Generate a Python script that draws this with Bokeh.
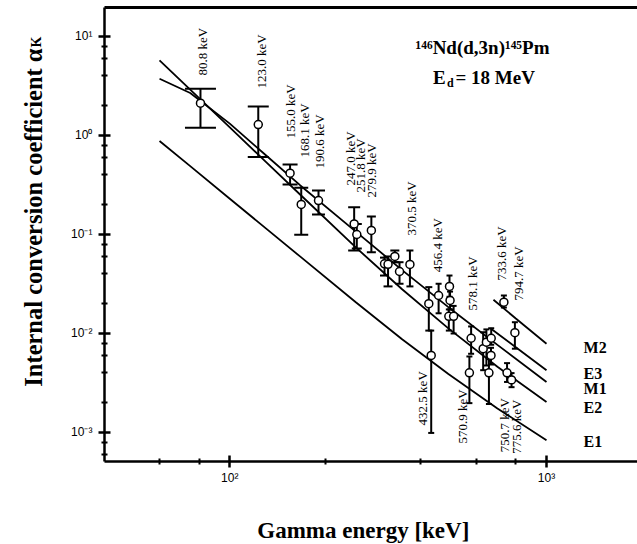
import math
from bokeh.plotting import figure
from bokeh.models import FixedTicker, Range1d, Label, LogAxis, CustomJSTickFormatter
from bokeh.core.properties import value
from bokeh.embed import file_html
from bokeh.resources import INLINE

# ---------------- theoretical K-conversion coefficients ----------------
curve_energy = [60, 75, 100, 130, 167, 250, 350, 490, 700, 1000]
alpha_E1 = [0.881, 0.490, 0.230, 0.1153, 0.0597, 0.02065, 0.00875, 0.0039, 0.00175, 0.000834]
alpha_E2 = [5.73, 2.90, 1.206, 0.542, 0.252, 0.0740, 0.0280, 0.01127, 0.00461, 0.00203]
alpha_M1 = [3.74, 2.69, 1.318, 0.631, 0.313, 0.107, 0.0437, 0.01845, 0.00767, 0.00324]
energy_E3 = [665, 800, 1000]
alpha_E3 = [0.0113, 0.00726, 0.00425]
energy_M2 = [680, 800, 1000]
alpha_M2 = [0.0219, 0.01416, 0.00787]

# ---------------- measured values ----------------
meas_energy = [80.8, 123.0, 155.0, 168.1, 190.6, 247.0, 251.8, 279.9, 308, 316, 332, 343.5,
               370.5, 425, 432.5, 456.4, 494, 496, 491.6, 509, 570.9, 578.1, 631, 646, 658,
               668, 669, 733.6, 750.7, 775.6, 794.7]
meas_alpha = [2.12, 1.29, 0.416, 0.201, 0.220, 0.128, 0.100, 0.110, 0.0506, 0.0500, 0.060, 0.0423,
              0.0498, 0.0200, 0.0060, 0.0242, 0.0299, 0.0216, 0.0149, 0.0149, 0.00401, 0.00895,
              0.00702, 0.00817, 0.00401, 0.0060, 0.00895, 0.0207, 0.00401, 0.0034, 0.0102]
meas_hi = [2.97, 1.96, 0.509, 0.296, 0.278, 0.189, 0.128, 0.152, 0.0584, 0.060, 0.0689, 0.0525,
           0.0689, 0.0294, 0.0107, 0.0318, 0.0385, 0.0265, 0.0175, 0.0190, 0.00586, 0.01178,
           0.0103, 0.0110, 0.00559, 0.00717, 0.0113, 0.0242, 0.00502, 0.00398, 0.0130]
meas_lo = [1.20, 0.608, 0.320, 0.0993, 0.159, 0.0689, 0.072, 0.0662, 0.0385, 0.0299, 0.0525, 0.0318,
           0.0299, 0.0107, 0.00099, 0.016, 0.0235, 0.0175, 0.0107, 0.0100, 0.00198, 0.00624,
           0.00426, 0.00475, 0.00194, 0.00486, 0.0077, 0.0183, 0.00324, 0.00287, 0.00702]
cap_px = [31, 21, 15, 14, 13, 12, 10, 9, 9, 9, 9, 8, 7, 7, 6, 6, 6, 6, 6, 6, 6, 6, 6, 6, 6, 6, 6, 6, 6, 6, 6]

# ---------------- gamma-line labels ----------------
tag_energy = [80.8, 123.0, 155.0, 168.1, 190.6, 247.0, 251.8, 279.9, 370.5, 456.4, 578.1,
              733.6, 794.7, 432.5, 570.9, 750.7, 775.6]
tag_text = ["%.1f keV" % e for e in tag_energy]
tag_y = [4.04, 2.98, 0.933, 0.600, 0.464, 0.313, 0.265, 0.236, 0.0977, 0.0416, 0.0171,
         0.0343, 0.0215, 0.00118, 0.000774, 0.000633, 0.000609]
tag_dx = [2, 3, 0, 3, 1, -4, 4, 0, 2, -1, 1, -2, 4, -9, -7, -3, 5]

mult_names = ["M2", "E3", "M1", "E2", "E1"]
mult_y = [0.00718, 0.00392, 0.00276, 0.00177, 0.000811]

# axis extents (data units)
X_LO, X_HI = 40.2, 1938
Y_LO, Y_HI = 5.095e-4, 19.6

SERIF = "Liberation Serif"

p = figure(width=637, height=544, x_axis_type="log", y_axis_type="log",
           x_axis_location=None, y_axis_location=None,
           x_range=Range1d(18.88, 1938), y_range=Range1d(7.39e-5, 23.1),
           output_backend="svg", toolbar_location=None,
           min_border_left=0, min_border_right=0, min_border_top=0, min_border_bottom=0)
p.outline_line_color = None
p.xgrid.visible = False
p.ygrid.visible = False
p.background_fill_color = "white"
p.border_fill_color = "white"

# curves
for xs, ys in [(curve_energy, alpha_E1), (curve_energy, alpha_E2), (curve_energy, alpha_M1),
               (energy_E3, alpha_E3), (energy_M2, alpha_M2)]:
    p.line(xs, ys, line_color="black", line_width=1.8)

# error bars
p.segment(x0=meas_energy, y0=meas_lo, x1=meas_energy, y1=meas_hi, line_color="black", line_width=2)
p.scatter(meas_energy, meas_hi, marker="dash", size=cap_px, line_color="black", line_width=2)
p.scatter(meas_energy, meas_lo, marker="dash", size=cap_px, line_color="black", line_width=2)
p.scatter(meas_energy, meas_alpha, marker="circle", size=8, fill_color="white",
          line_color="black", line_width=1.5)

# gamma labels
p.text(x=tag_energy, y=tag_y, text=tag_text, angle=math.pi / 2, x_offset=tag_dx,
       text_align="left", text_baseline="middle", text_font=value(SERIF),
       text_font_size="13px", text_color="black")

# multipolarity labels
p.text(x=[1309] * len(mult_names), y=mult_y, text=mult_names, text_align="left",
       text_baseline="middle", text_font=value(SERIF), text_font_style="bold",
       text_font_size="16px", text_color="black")


def add_label(**kw):
    kw.setdefault("text_font", SERIF)
    kw.setdefault("text_font_style", "bold")
    kw.setdefault("text_color", "black")
    kw.setdefault("text_baseline", "alphabetic")
    p.add_layout(Label(**kw))


# title texts
add_label(x=628, y=7.74, text="\u00b9\u2074\u2076Nd(d,3n)\u00b9\u2074\u2075Pm",
          text_align="center", text_font_size="19px")
add_label(x=438.5, y=3.83, text="E", text_align="left", text_font_size="19px")
add_label(x=485, y=3.43, text="d", text_align="left", text_font_size="12px")
add_label(x=516, y=3.83, text="= 18 MeV", text_align="left", text_font_size="19px")

# axis titles
add_label(x=24.0, y=7.57, text="Internal conversion coefficient \u03b1", angle=math.pi / 2,
          text_align="right", text_font_size="24.5px")
add_label(x=24.5, y=7.74, text="K", angle=math.pi / 2, text_align="left", text_font_size="14px")
add_label(x=264, y=1.02e-4, text="Gamma energy [keV]", text_align="center", text_font_size="23px")

fmt = CustomJSTickFormatter(code="""
const e = Math.round(Math.log10(tick));
const m = {"-": "\u207b", "0": "\u2070", "1": "\u00b9", "2": "\u00b2", "3": "\u00b3"};
return "10" + String(e).split("").map(c => m[c]).join("");
""")


def style(ax):
    ax.formatter = fmt
    ax.axis_line_width = 2.5
    ax.axis_line_color = "black"
    ax.major_tick_line_width = 2.5
    ax.minor_tick_line_width = 2
    ax.major_tick_in = 6
    ax.major_tick_out = 6
    ax.minor_tick_in = 3
    ax.minor_tick_out = 3
    ax.major_label_text_font = "Liberation Sans"
    ax.major_label_text_font_size = "12px"
    ax.major_label_text_color = "black"


xaxis = LogAxis(fixed_location=Y_LO, bounds=(X_LO, X_HI),
                ticker=FixedTicker(ticks=[100, 1000], minor_ticks=[60, 80, 200, 400, 600, 800]))
style(xaxis)
xaxis.major_label_standoff = 4
p.add_layout(xaxis, "below")

yaxis = LogAxis(fixed_location=X_LO, bounds=(Y_LO, Y_HI),
                ticker=FixedTicker(ticks=[1e-3, 1e-2, 1e-1, 1, 10],
                                   minor_ticks=[6e-4, 8e-4, 2e-3, 4e-3, 6e-3, 8e-3, 2e-2, 4e-2,
                                                6e-2, 8e-2, 0.2, 0.4, 0.6, 0.8, 2, 4, 6, 8]))
style(yaxis)
yaxis.major_label_standoff = 6
p.add_layout(yaxis, "left")

top = LogAxis(fixed_location=Y_HI, bounds=(X_LO, X_HI), ticker=FixedTicker(ticks=[], minor_ticks=[]))
top.axis_line_width = 3
top.axis_line_color = "black"
top.major_tick_line_color = None
top.minor_tick_line_color = None
top.major_label_text_font_size = "0px"
p.add_layout(top, "above")

open("out.html", "w").write(file_html(p, INLINE))
